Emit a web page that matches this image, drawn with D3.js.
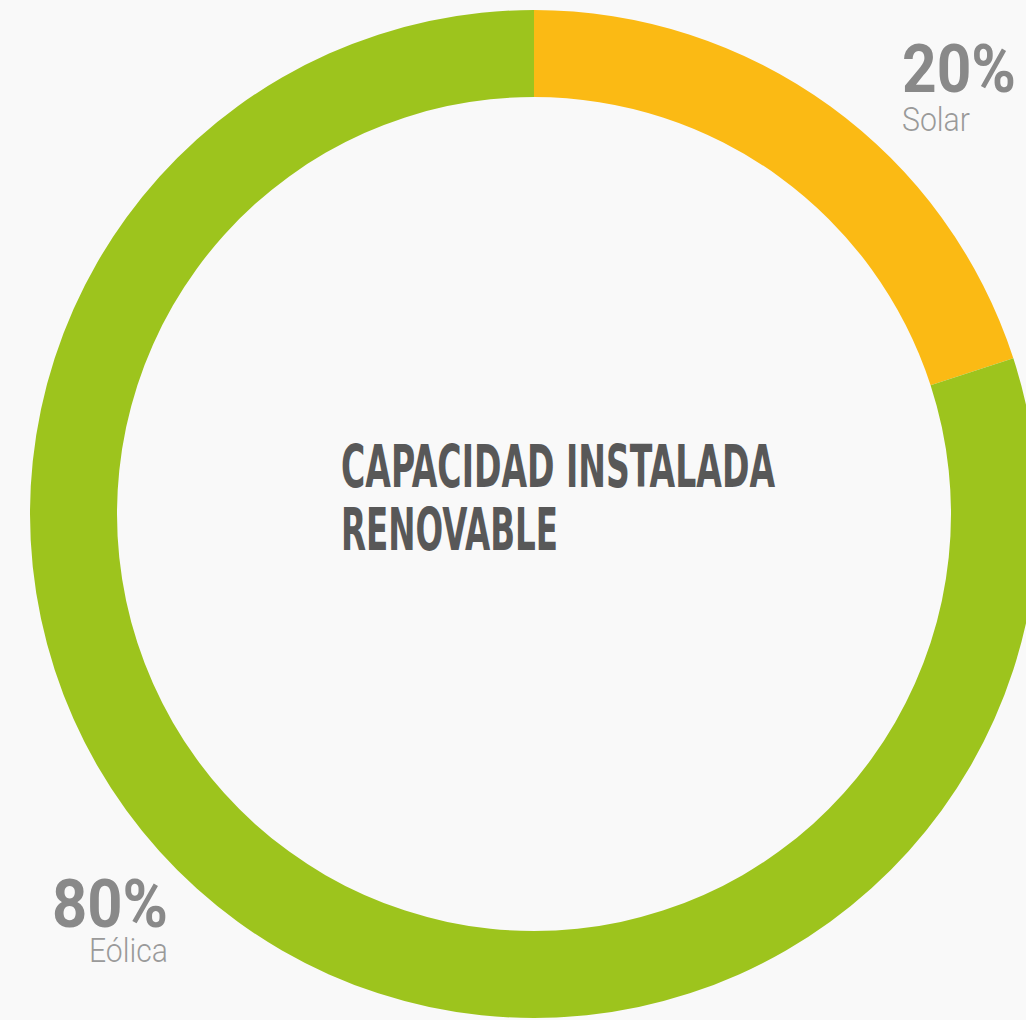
<!DOCTYPE html>
<html lang="es">
<head>
<meta charset="UTF-8">
<title>Capacidad instalada renovable</title>
<script src="https://d3js.org/d3.v7.min.js"></script>
<style>
  html, body { margin: 0; padding: 0; background: #f9f9f9; }
  svg { display: block; }
</style>
</head>
<body>
<script>
// data
const sources = ['Solar', 'Eólica'];
const shares = [20, 80];
const colors = ['#fbba14', '#9dc41d'];
const titleLines = ['CAPACIDAD INSTALADA', 'RENOVABLE'];

const width = 1026, height = 1020;
const cx = 534, cy = 514;

const svg = d3.select('body').append('svg')
  .attr('width', width).attr('height', height);

svg.append('rect').attr('width', width).attr('height', height).attr('fill', '#f9f9f9');

const data = sources.map((s, i) => ({ type: s, value: shares[i] }));
const colorScale = d3.scaleOrdinal(sources, colors);

const pie = d3.pie().value(d => d.value).sort(null);
const arc = d3.arc().innerRadius(417).outerRadius(504);

svg.append('g')
  .attr('transform', `translate(${cx},${cy})`)
  .selectAll('path')
  .data(pie(data))
  .join('path')
  .attr('d', arc)
  .attr('fill', d => colorScale(d.data.type));

// title in the middle
svg.append('g').selectAll('text')
  .data(titleLines)
  .join('text')
  .attr('x', 341)
  .attr('y', (d, i) => i ? 550 : 487)
  .attr('textLength', (d, i) => i ? 217 : 434)
  .attr('lengthAdjust', 'spacingAndGlyphs')
  .style('font-family', '"Liberation Sans Narrow", "DejaVu Sans Condensed", sans-serif')
  .style('font-weight', 'bold')
  .style('font-size', '58px')
  .style('fill', '#585858')
  .text(d => d);

// labels: percentage + source name
const labels = [
  { pct: shares[0] + '%', name: sources[0], x: 902, y: 92, w: 114, nx: 902, ny: 131, nw: 68 },
  { pct: shares[1] + '%', name: sources[1], x: 52, y: 927, w: 116, nx: 168, ny: 962, nw: 79 }
];

const lab = svg.append('g').selectAll('g').data(labels).join('g');
lab.append('text')
  .attr('x', d => d.x).attr('y', d => d.y)
  .attr('textLength', d => d.w)
  .attr('lengthAdjust', 'spacingAndGlyphs')
  .style('font-family', 'Roboto, sans-serif')
  .style('font-weight', 'bold')
  .style('font-size', '66px')
  .style('fill', '#898989')
  .text(d => d.pct);
lab.append('text')
  .attr('x', d => d.nx).attr('y', d => d.ny)
  .attr('text-anchor', (d, i) => i ? 'end' : 'start')
  .attr('textLength', d => d.nw)
  .attr('lengthAdjust', 'spacingAndGlyphs')
  .style('font-family', 'Roboto, sans-serif')
  .style('font-weight', 300)
  .style('font-size', '33px')
  .style('fill', '#9a9a9a')
  .text(d => d.name);
</script>
</body>
</html>
